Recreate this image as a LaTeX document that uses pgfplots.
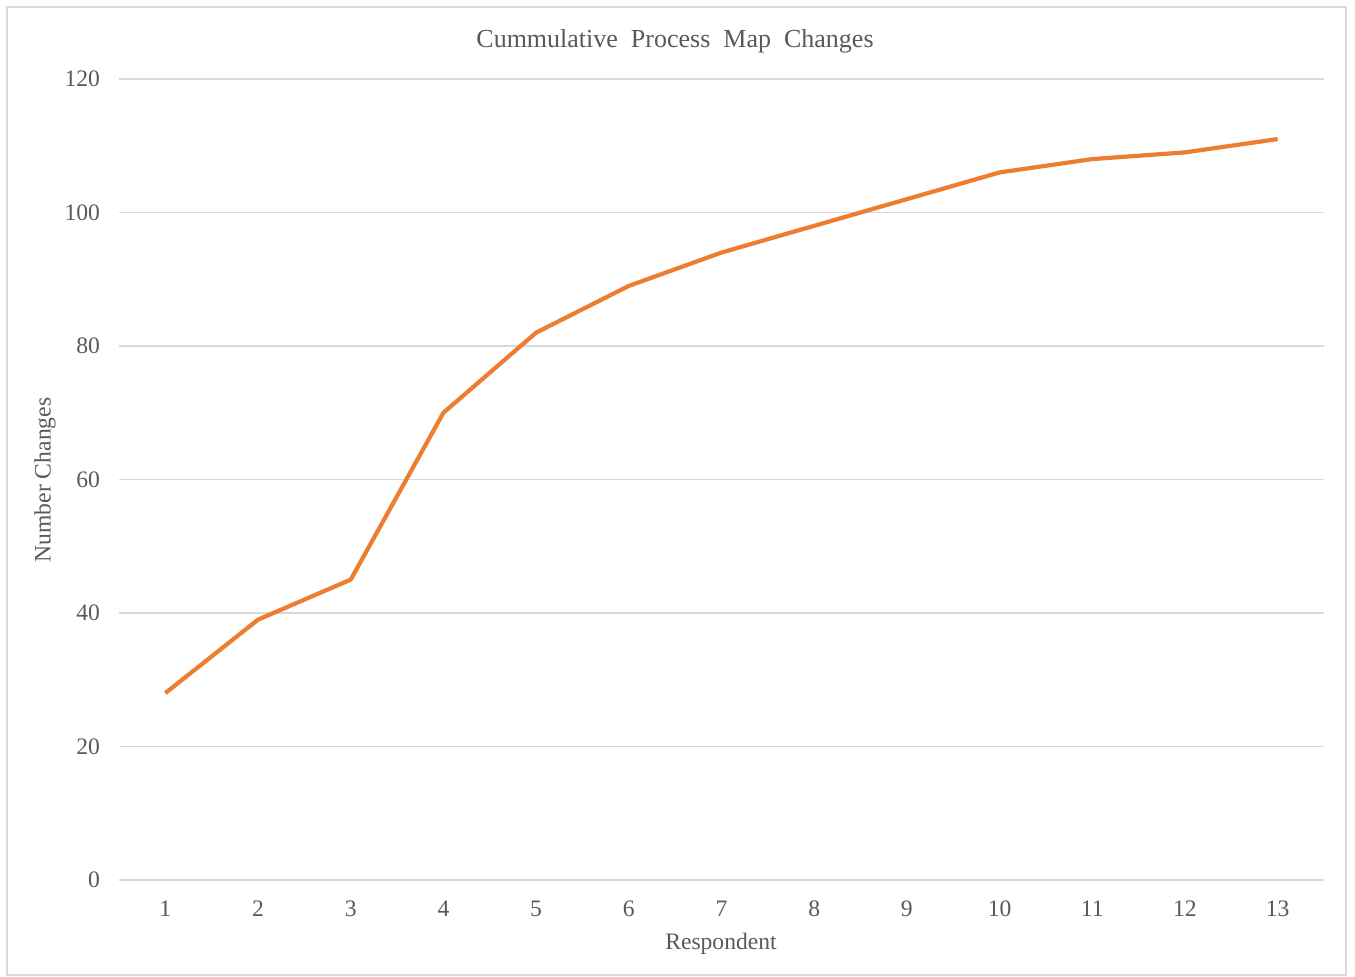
\documentclass[border=0pt]{standalone}
\usepackage{pgfplots}
\pgfplotsset{compat=1.18}
\usepackage{fontspec}
\setmainfont{Liberation Serif}
\definecolor{txt}{HTML}{595959}
\definecolor{gridc}{HTML}{D9D9D9}
\definecolor{orng}{HTML}{ED7D31}
\pgfplotstableread{
x y
1 28
2 39
3 45
4 70
5 82
6 89
7 94
8 98
9 102
10 106
11 108
12 109
13 111
}\datatable
\begin{document}
\begin{tikzpicture}
\path[use as bounding box] (0pt,0pt) rectangle (677.5pt,488.5pt);
\draw[gridc, line width=1.2pt] (3.5pt,1pt) rectangle (673pt,485pt);
\begin{axis}[
  at={(59.5pt,48.5pt)}, anchor=south west,
  scale only axis,
  width=602.5pt, height=400.5pt,
  xmin=0.5, xmax=13.5, ymin=0, ymax=120,
  xtick={1,...,13}, ytick={0,20,...,120},
  axis line style={draw=none},
  major tick length=0pt,
  ymajorgrids, grid style={gridc, line width=0.9pt},
  tick label style={font=\fontsize{11.8}{13}\selectfont, text=txt},
  /pgf/number format/assume math mode=true,
  yticklabel style={xshift=-6pt},
  xticklabel style={yshift=-7pt},
  clip=false,
]
\addplot[orng, line width=2.1pt, line join=round] table[x=x,y=y]{\datatable};
\end{axis}
\node[text=txt, font=\fontsize{13}{15}\selectfont] at (337.5pt,468pt) {Cummulative\ \ Process\ \ Map\ \ Changes};
\node[text=txt, font=\fontsize{11.8}{13}\selectfont] at (360.5pt,16.5pt) {Respondent};
\node[text=txt, font=\fontsize{11.8}{13}\selectfont, rotate=90] at (22.5pt,248.5pt) {Number Changes};
\end{tikzpicture}
\end{document}
